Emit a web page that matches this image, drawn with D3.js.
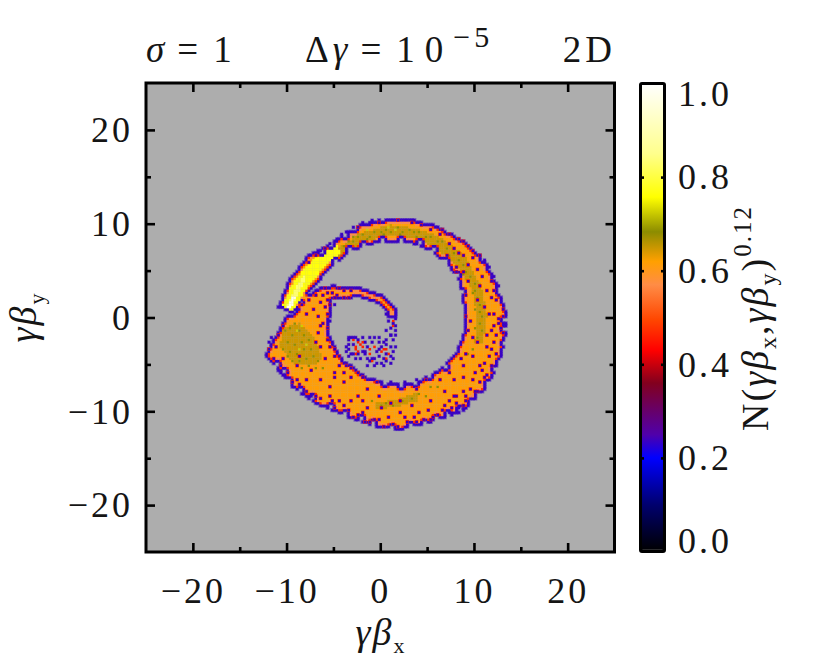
<!DOCTYPE html>
<html><head><meta charset="utf-8">
<script src="https://cdn.jsdelivr.net/npm/d3@7"></script>
<style>
html,body{margin:0;padding:0;background:#fff}
text{font-family:"Liberation Serif",serif;fill:#151515}
</style></head><body><svg id="c" width="830" height="670"></svg>
<script>
// Traced outlines of the populated area of the histogram, in (γβx, γβy)
const ringOutline=[[-10.9,1.1],[-9.8,3.9],[-7.7,6.6],[-5.0,8.1],[-2.2,9.9],[0.7,10.6],[3.2,10.5],[6.0,9.8],[8.9,8.2],[11.0,6.3],[12.4,3.8],[13.4,0.8],[13.4,-2.0],[12.7,-4.9],[11.2,-7.7],[8.9,-10.0],[6.0,-11.0],[2.1,-12.0],[-0.4,-11.7],[-3.2,-10.7],[-6.8,-9.2],[-9.3,-7.5],[-12.3,-4.0],[-10.0,0.1],[-9.5,0.2],[-8.0,2.2],[-6.4,3.2],[-5.0,3.4],[-5.2,1.9],[-5.4,-0.2],[-5.4,-2.0],[-4.3,-4.2],[-1.5,-6.4],[1.4,-7.1],[3.9,-6.9],[6.4,-5.5],[8.1,-3.7],[8.9,-1.7],[9.0,0.8],[8.5,3.7],[7.1,5.8],[5.3,7.2],[3.2,8.0],[-0.4,8.0],[-3.2,7.1],[-5.4,5.2],[-7.6,2.7],[-9.1,0.4]];
const spiralOutline=[[-5.0,3.4],[-2.2,3.2],[0.3,2.4],[1.8,0.8],[1.7,0.0],[0.9,0.0],[0.8,0.5],[-0.2,1.5],[-2.2,2.2],[-4.1,2.0],[-5.2,1.9]];
const ridgeOutline=[[-5.0,7.0],[-2.2,9.0],[1.0,9.9],[3.9,9.5],[6.4,8.6],[9.0,6.7],[10.8,3.3],[11.4,0.3],[11.0,-2.7],[10.1,-2.7],[10.3,0.3],[9.8,3.0],[8.1,5.6],[6.0,7.4],[3.9,8.4],[1.0,8.8],[-2.0,7.9],[-4.5,6.3]];
const blobOutline=[[-10.4,-1.0],[-8.6,-0.6],[-7.3,-1.7],[-6.1,-4.2],[-6.8,-4.9],[-9.3,-4.9],[-10.7,-3.1]];
const lowerArcOutline=[[-0.4,-9.1],[2.1,-8.6],[3.9,-8.0],[3.9,-8.9],[2.1,-9.4],[-0.4,-9.8]];
const streakOutline=[[-10.5,1.2],[-9.5,3.4],[-7.6,5.9],[-5.4,7.4],[-4.5,7.7],[-4.2,6.8],[-5.6,5.7],[-7.3,3.9],[-8.6,1.9],[-9.3,0.6]];
const paleOutline=[[-10.0,1.2],[-9.2,3.0],[-8.1,4.5],[-7.9,4.1],[-8.8,2.3],[-9.5,0.9]];
const coreOutline=[[-9.9,1.1],[-9.3,2.3],[-9.0,2.2],[-9.5,1.0]];
// Level of each traced area
const orangeLevel=0.615, edgeLevel=0.235, rimLevel=0.47, haloLevel=0.57, ridgeLevel=0.648, oliveLevel=0.685, brightLevel=0.725, streakLevel=0.765, paleLevel=0.83, coreLevel=0.97, sparseLevel=0.235, speckHaloLevel=0.46;
// Isolated low-count cells
const lowCells=[[8.9,8.1],[9.4,7.6],[9.9,7.2],[10.6,6.7],[11.2,6.2],[11.5,5.3],[12.1,4.4],[12.6,3.3],[11.9,2.2],[12.4,1.9],[13.0,0.8],[13.1,0.1],[12.6,-0.6],[11.9,-1.5],[13.0,-1.7],[12.2,-2.7],[11.4,-3.1],[11.7,-4.2],[10.6,-5.2],[11.0,-6.3],[9.9,-6.7],[10.3,-7.9],[9.2,-8.4],[8.9,-9.5],[8.0,-9.1],[7.4,-10.2],[6.5,-9.9],[5.7,-10.6],[4.6,-10.9],[3.5,-10.7],[2.5,-10.6],[1.4,-11.3],[0.3,-11.6],[-0.7,-10.9],[-1.8,-10.2],[-1.6,-11.1],[-2.9,-10.6],[-3.8,-9.5],[-4.3,-8.8],[-5.4,-8.4],[-6.3,-8.7],[-7.3,-8.4],[-8.6,-7.2],[-9.5,-6.8],[-10.0,-5.9],[-6.4,-6.7],[-5.0,-5.9],[-3.8,-6.8],[-3.2,-6.3],[-2.5,-8.4],[-1.5,-7.7],[-0.2,-8.4],[1.0,-9.1],[2.1,-8.8],[3.9,-7.7],[4.9,-6.7],[6.4,-6.7],[7.4,-5.9],[8.5,-4.5],[9.2,-3.8],[7.8,-8.4],[8.9,-5.2],[9.9,-4.2],[10.3,-2.7],[9.4,-1.5],[9.2,0.1],[11.0,1.2],[10.6,3.3],[8.1,5.4],[7.1,6.5],[8.9,6.5],[-5.4,-7.4],[-7.5,-5.6],[-8.9,-5.2],[-10.4,-4.5],[-11.2,-3.1],[-11.8,-3.5],[-12.0,-2.7],[-8.6,-4.2],[-6.4,-3.1],[-7.7,1.9],[-7.2,0.8],[-6.6,0.1],[-6.1,-0.6],[-5.6,1.9],[-6.3,1.5],[-4.8,2.2],[-4.0,2.2],[-4.5,3.2],[-3.2,2.8],[-5.7,-2.4],[-5.0,-3.3],[-4.5,-4.2],[-3.6,-5.2],[-2.5,-5.8],[-1.8,-6.5],[-0.4,-6.8],[1.0,-6.8],[2.5,-7.0],[3.9,-6.7],[-2.0,10.1],[-1.1,10.1],[-0.2,10.2],[-2.5,9.5],[-3.6,9.2],[-4.7,8.3],[-5.4,7.9],[-6.3,7.2],[-7.0,6.5],[6.5,9.4],[7.4,8.8],[8.3,8.3],[-3.1,-2.2],[-2.9,-2.9],[-2.3,-2.4],[-1.6,-2.6],[-1.3,-3.1],[-0.6,-2.2],[-0.2,-2.7],[-3.1,-3.8],[-2.3,-4.0],[-1.6,-4.0],[-0.9,-4.3],[-0.2,-4.2],[0.5,-3.8],[1.0,-4.2],[-1.3,-5.1],[-0.4,-4.9],[0.3,-5.1],[1.0,-4.9],[0.1,-3.1],[0.7,-2.4],[1.2,-1.9],[0.7,0.3],[1.4,-0.6],[0.5,-1.3],[1.0,-1.1],
[12.2,0.3],[12.7,-0.1],[12.0,-0.9],[12.9,-1.1],[12.4,-1.9],[11.4,-1.9],[11.9,-3.4],[12.4,-3.9],[11.2,-4.9],[11.9,-5.2],[10.9,-5.7],[11.4,-6.2],[10.2,-6.0],[10.6,-7.0],[9.6,-7.6],[10.0,-8.0],[8.8,-7.8],[9.0,-8.9],[8.2,-8.5],[8.4,-9.6],[7.4,-8.9],[7.6,-9.7],[6.8,-9.4],[6.2,-10.4],[5.2,-9.9],[5.3,-10.9],[4.2,-10.2],[3.9,-11.2],[2.9,-11.2],[2.1,-10.2],[1.8,-11.6],[0.8,-10.6],[-0.2,-10.8],[-1.1,-11.1],[-1.3,-9.7],[-2.3,-10.3],[-3.3,-9.9],[-3.1,-9.0],[-4.8,-9.7],[-5.1,-8.9],[-6.8,-8.4],[-7.9,-7.8],[-8.0,-6.7],[-9.0,-6.6],[-10.6,-5.2],[-11.4,-4.3],[-11.6,-2.2],[-10.9,-1.9],[-10.4,-1.0],[7.9,-6.7],[8.9,-6.3],[6.9,-7.9],[5.4,-8.9],[3.4,-9.4],[0.2,-9.6],[-1.9,-8.9],[9.9,-2.2],[9.6,-0.4],[10.4,1.9],[11.7,0.4],[11.4,2.9],[12.2,2.9],[11.9,3.9],[10.9,4.4],[10.4,5.2],[9.4,5.7],[9.9,6.3],[7.9,7.4],[8.4,6.9],[7.4,7.9],[6.4,8.9],[5.4,9.4],[4.4,9.9],[3.4,10.1],[1.9,10.4],[-0.9,10.4],[-2.9,9.7],[-4.2,8.9],[-5.9,7.4],[-7.6,5.9],[9.1,2.4],[9.3,3.9],[8.9,4.8],[8.1,4.9],[-5.9,3.1],[-5.6,2.6],[-6.1,2.4],[-5.1,2.6],[-4.6,2.4],[-3.9,2.9],[-3.4,2.2],[-5.4,1.4],[-5.9,1.1],[-4.9,1.4],[-5.7,0.4],[-5.5,-0.4],[-6.4,-0.9],[-5.6,-1.2],[-7.9,0.4],[-8.4,1.4],[-8.9,0.9],[-6.9,2.4],[-6.6,-1.6],[-6.9,-2.6],[-5.4,-3.1],[-4.9,-4.1],[-5.9,-4.4],[-4.4,-5.1],[-3.9,-5.9],[-4.9,-6.4],[-3.1,-5.4],[-3.4,-2.9],[-3.4,-3.4],[-3.3,-2.5],[-2.0,-2.2],[-2.9,-3.9],[-2.0,-3.6],[-1.6,-3.6],[-1.0,-2.6],[0.4,-2.6],[1.0,-3.1],[1.5,-1.4],[1.6,-0.1],[0.9,-0.4],[1.0,-2.0],[-0.4,-3.6],[-0.6,-4.4],[1.3,-3.6],[0.3,-4.4],
[-3.4,-2.1],[-2.9,-2.1],[-2.6,-2.1],[-3.6,-3.1],[-3.6,-3.7],[-3.3,-4.1],[-2.6,-4.3],[-2.1,-4.3],[-1.4,-4.4],[-1.1,-4.6],[-0.6,-5.1],[0.1,-4.8],[0.6,-4.6],[1.4,-4.3],[1.5,-3.1],[1.4,-2.5],[-0.1,-2.1],[-1.1,-2.1],[-0.1,-3.4],[0.6,-3.0],[1.6,-0.9],[1.7,-1.8]];
const redCells=[[-2.5,-2.7],[-1.8,-3.1],[-0.6,-3.1],[-2.7,-3.5],[-1.1,-3.8],[-2.6,-3.1],[-2.2,-2.9],[-1.1,-3.4],[0.1,-3.6],[0.6,-3.3],[-3.0,-2.5],[-2.0,-2.6],[-2.4,-3.7],[-2.6,-3.8],[0.3,-3.3],[0.9,-3.8],[0.6,-4.3],[-0.9,-4.7],[1.3,-1.0],[1.3,-0.3]];
// Empty notches along the edge of the populated area
const notchCells=[[-6.5,6.9],[-5.5,7.6],[-4,8.6],[-3,9.3],[-1.5,10.1],[0,10.4],[2,10.5],[4.5,10.0],[7,9.1],[8,8.5],[9.8,7.3],[10.8,6.2],[11.5,5.2],[12.1,4.2],[12.7,2.7],[13.1,1.5],[13.2,-0.5],[13.2,-1.5],[13,-3],[12.6,-4.8],[12.1,-5.7],[11.3,-7.2],[10.4,-8.3],[9.5,-9.2],[8.4,-10.0],[7.2,-10.5],[5.8,-10.9],[4.5,-11.3],[3,-11.7],[1,-11.9],[-1,-11.4],[-2.2,-11.0],[-4,-10.3],[-5.5,-9.6],[-7.5,-8.7],[-8.7,-7.8],[-9.8,-6.8],[-10.5,-5.8],[-11.2,-5.2],[6.8,-5.4],[5.2,-6.4],[3.5,-7.1],[2,-7.3],[0.3,-7.1],[-1,-6.5],[-2.5,-5.7],[-3.8,-4.6],[8.7,2.5],[8.0,4.3],[6.9,5.9],[5.5,7.0],[4,7.9],[2,8.2],[0,8.1],[-2,7.6],[-3.5,7.0],[-4.8,5.9]];
// Mottled higher-count cells
const oliveCells=[[-4,7.6],[-3.4,8.1],[-3,8.5],[-2.4,8.6],[-1.8,8.9],[-1.2,8.7],[-0.6,9.2],[0,9.1],[0.6,9.4],[1.2,9.2],[1.8,9.5],[2.4,9.1],[3,9.4],[3.6,9.0],[4.2,9.2],[4.8,8.6],[5.4,8.7],[6,8.2],[6.6,8.0],[7.2,7.4],[7.8,6.9],[8.4,6.2],[8.8,5.6],[9.2,4.9],[9.6,4.3],[10,3.6],[10.2,2.9],[10.4,2.2],[10.7,1.4],[10.6,0.7],[10.9,0.1],[10.5,-0.7],[10.8,-1.4],[10.4,-2.1],[9.8,-3.3],[9.4,-4.0],[-2.9,8.2],[-1.4,8.4],[0.4,8.9],[2.1,8.9],[3.9,8.7],[5.9,7.7],[7.4,6.6],[8.9,4.6],[9.9,2.6],[10.2,0.9],[10.2,-1.1],[-10.1,-1.5],[-9.6,-1.1],[-9.1,-0.6],[-8.6,-1.4],[-9.4,-1.9],[-8.1,-1.9],[-9.9,-2.6],[-9.1,-2.9],[-8.4,-2.6],[-7.6,-2.4],[-10.4,-3.4],[-9.6,-3.6],[-8.9,-3.9],[-8.1,-3.4],[-7.4,-3.4],[-9.4,-4.6],[-8.6,-4.6],[-7.9,-4.4],[-7.1,-4.1],[-6.6,-4.6],[-6.9,-5.4],[-7.6,-5.1],[-8.4,-5.4],[-6.1,-5.4],[-9.9,-4.1],[0,-9.4],[0.6,-9.1],[1.4,-9.4],[2.4,-9.0],[3.4,-8.6],[4.1,-8.2],[4.9,-8.4],[-1,-9.0],[5.4,-7.4],[6.1,-7.4]];
const brightCells=[[-8.9,-1.4],[-8.4,-0.9],[-8.6,-3.3],[-7.9,-3.0],[-1.4,9.4],[1.6,9.3],[-2.6,9.0],[0.9,9.6]];
// Colour table of the colour bar
const cmapLevels=[0,0.1,0.2,0.25,0.36,0.43,0.495,0.57,0.62,0.683,0.757,0.85,1];
const cmapColors=["#000000","#00006e","#0000ff","#5000aa","#82001e","#ff0000","#ff4600","#ff8c46","#ffa000","#8c8c00","#ffff00","#ffff8c","#ffffff"];
// Axis ticks
const majorTicks=[-20,-10,0,10,20], minorTicks=[-15,-5,5,15], barTicks=[0,0.2,0.4,0.6,0.8,1], barMinor=[0.2,0.4,0.6,0.8];
const xRange=[-25,25], yRange=[-25,25], cellStep=0.25;

const svg=d3.select("#c");
const x=d3.scaleLinear().domain(xRange).range([146,614.5]);
const y=d3.scaleLinear().domain(yRange).range([552,83]);
const cb=d3.scaleLinear().domain([0,1]).range([551.5,83.5]);
const col=d3.scaleLinear().domain(cmapLevels).range(cmapColors);
const snap=v=>Math.floor(v/cellStep);
const key=(i,j)=>i+","+j;
const inside=(p,a,b)=>d3.polygonContains(p,[a,b]);

svg.append("rect").attr("x",x(-25)).attr("y",y(25)).attr("width",x(25)-x(-25)).attr("height",y(-25)-y(25)).attr("fill","#adadad");

const g=svg.append("g").style("filter","blur(0.4px)");
const occ=new Set();
d3.range(snap(-13.5),snap(14)).forEach(i=>d3.range(snap(-12.5),snap(11.5)).forEach(j=>{
  const a=(i+.5)*cellStep,b=(j+.5)*cellStep;
  if(inside(ringOutline,a,b)||inside(spiralOutline,a,b))occ.add(key(i,j));
}));
notchCells.forEach(c=>{const i=snap(c[0]),j=snap(c[1]);[0,1].forEach(p=>[0,1].forEach(q=>occ.delete(key(i+p,j+q))))});
const dirs4=[[1,0],[-1,0],[0,1],[0,-1]], diag=[[1,1],[-1,1],[1,-1],[-1,-1]], far=[[2,0],[-2,0],[0,2],[0,-2]];
const cells=new Map(), outer=[];
occ.forEach(k=>{
  const [i,j]=k.split(",").map(Number);
  const a=(i+.5)*cellStep,b=(j+.5)*cellStep;
  const all=L=>L.every(d=>occ.has(key(i+d[0],j+d[1])));
  let v=orangeLevel;
  if(inside(lowerArcOutline,a,b)||inside(ridgeOutline,a,b)||inside(blobOutline,a,b))v=ridgeLevel;
  if(inside(streakOutline,a,b))v=streakLevel;
  if(inside(paleOutline,a,b))v=paleLevel;
  if(inside(coreOutline,a,b))v=coreLevel;
  if(!all(dirs4)){v=edgeLevel;outer.push({i,j});}
  else if(!all(diag)&&v<streakLevel)v=rimLevel;
  else if(!all(far)&&v<ridgeLevel)v=haloLevel;
  cells.set(k,{i,j,v});
});
[[oliveCells,oliveLevel],[brightCells,brightLevel]].forEach(([list,v])=>list.forEach(c=>{
  const i=snap(c[0]),j=snap(c[1]),k=key(i,j);
  if(cells.has(k)&&cells.get(k).v>=orangeLevel)cells.set(k,{i,j,v});
}));
const px=d=>x(d.i*cellStep), py=d=>y((d.j+1)*cellStep), cw=x(cellStep)-x(0), ch=y(0)-y(cellStep);
g.append("g").selectAll("rect").data(outer).join("rect")
 .attr("x",d=>px(d)-1).attr("y",d=>py(d)-1).attr("width",cw+2).attr("height",ch+2)
 .attr("fill",col(edgeLevel)).attr("opacity",.45);
g.append("g").selectAll("rect").data([...cells.values()]).join("rect")
 .attr("x",px).attr("y",py).attr("width",cw+.2).attr("height",ch+.2).attr("fill",d=>col(d.v));
const lowData=lowCells.map(c=>({i:snap(c[0]),j:snap(c[1])}));
g.append("g").selectAll("rect").data(lowData).join("rect")
 .attr("x",d=>px(d)-.6).attr("y",d=>py(d)-.6).attr("width",cw+1.2).attr("height",ch+1.2)
 .attr("fill",d=>occ.has(key(d.i,d.j))?col(speckHaloLevel):col(edgeLevel)).attr("opacity",d=>occ.has(key(d.i,d.j))?1:.45);
g.append("g").selectAll("rect").data(redCells.map(c=>({i:snap(c[0]),j:snap(c[1])}))).join("rect")
 .attr("x",px).attr("y",py).attr("width",cw+.2).attr("height",ch+.2).attr("fill",col(speckHaloLevel));
g.append("g").selectAll("rect").data(lowData).join("rect")
 .attr("x",px).attr("y",py).attr("width",cw+.2).attr("height",ch+.2).attr("fill",col(sparseLevel));

function ticks(axis,vals,size,tx){
  const a=svg.append("g").attr("transform",tx).call(axis.tickValues(vals).tickSize(size).tickFormat(""));
  a.select(".domain").remove();
  a.selectAll("line").attr("stroke","#000").attr("stroke-width",2.6);
  return a;
}
const M=9,m=5;
ticks(d3.axisBottom(x),majorTicks,-M,`translate(0,${y(-25)})`);
ticks(d3.axisBottom(x),minorTicks,-m,`translate(0,${y(-25)})`);
ticks(d3.axisTop(x),majorTicks,-M,`translate(0,${y(25)})`);
ticks(d3.axisTop(x),minorTicks,-m,`translate(0,${y(25)})`);
ticks(d3.axisLeft(y),majorTicks,-M,`translate(${x(-25)},0)`);
ticks(d3.axisLeft(y),minorTicks,-m,`translate(${x(-25)},0)`);
ticks(d3.axisRight(y),majorTicks,-M,`translate(${x(25)},0)`);
ticks(d3.axisRight(y),minorTicks,-m,`translate(${x(25)},0)`);
svg.append("rect").attr("x",x(-25)).attr("y",y(25)).attr("width",x(25)-x(-25)).attr("height",y(-25)-y(25)).attr("fill","none").attr("stroke","#000").attr("stroke-width",3);

// Tick labels
const fs=36, ls=3;
const lab=(sel)=>sel.style("font-size",fs+"px").style("letter-spacing",ls+"px");
const fmt=d=>d3.format("d")(d);
const xl=svg.append("g").call(d3.axisBottom(x).tickValues(majorTicks).tickSize(0).tickFormat(fmt));
xl.select(".domain").remove();
xl.selectAll("text").attr("y",603).attr("dy",0).attr("text-anchor","middle").call(lab);
const yl=svg.append("g").call(d3.axisLeft(y).tickValues(majorTicks).tickSize(0).tickFormat(fmt));
yl.select(".domain").remove();
yl.selectAll("text").attr("x",133).attr("dy","0.33em").attr("text-anchor","end").call(lab);

// Colour bar
const grad=svg.append("defs").append("linearGradient").attr("id","cbg").attr("x1",0).attr("x2",0).attr("y1",1).attr("y2",0);
cmapLevels.forEach((v,i)=>grad.append("stop").attr("offset",v).attr("stop-color",cmapColors[i]));
const cx0=640.5,cx1=664.5;
svg.append("rect").attr("x",cx0).attr("y",cb(1)).attr("width",cx1-cx0).attr("height",cb(0)-cb(1)).attr("fill","url(#cbg)");
svg.append("line").attr("x1",cx0+2).attr("x2",cx1-2).attr("y1",cb(0)-1).attr("y2",cb(0)-1).attr("stroke","#aaa").attr("stroke-width",1.5);
ticks(d3.axisLeft(cb),barMinor,-3.5,`translate(${cx0},0)`);
ticks(d3.axisRight(cb),barMinor,-3.5,`translate(${cx1},0)`);
svg.append("rect").attr("x",cx0).attr("y",cb(1)).attr("width",cx1-cx0).attr("height",cb(0)-cb(1)).attr("rx",1.5).attr("fill","none").attr("stroke","#000").attr("stroke-width",3);
const cl=svg.append("g").call(d3.axisRight(cb).tickValues(barTicks).tickSize(0).tickFormat(d3.format(".1f")));
cl.select(".domain").remove();
cl.selectAll("text").attr("x",678).attr("dy","0.33em").attr("text-anchor","start").call(lab);
cl.selectAll("text").filter(d=>d===1).attr("y",10.5);
cl.selectAll("text").filter(d=>d===0).attr("y",-11);

// Titles and labels
function rich(t,parts){
  let last=0;
  parts.forEach(p=>{
    const s=t.append("tspan").text(p.t);
    const shift=p.d||0;
    s.attr("dy",shift-last); last=shift;
    if(p.i)s.style("font-style","italic");
    if(p.s)s.style("font-size",p.s+"px");
    if(p.dx)s.attr("dx",p.dx);
    if(p.ls!==undefined)s.style("letter-spacing",p.ls+"px");
  });
}
const title=(xp,anchor,parts)=>{const t=svg.append("text").attr("x",xp).attr("y",62).attr("text-anchor",anchor).style("font-size","37px").style("letter-spacing","4px");rich(t,parts)};
title(146,"start",[{t:"σ",i:1},{t:"=",dx:9},{t:"1",dx:11}]);
title(305,"start",[{t:"Δ"},{t:"γ",i:1},{t:"=",dx:9},{t:"10",dx:11,ls:10},{t:"−5",d:-15,s:30}]);
title(616,"end",[{t:"2D"}]);
const xt=svg.append("text").attr("x",381).attr("y",645).attr("text-anchor","middle").style("font-size","38px").style("letter-spacing","2px");
rich(xt,[{t:"γβ",i:1},{t:"x",d:8,s:22}]);
const yt=svg.append("text").attr("transform","translate(36,317) rotate(-90)").attr("text-anchor","middle").style("font-size","38px").style("letter-spacing","2px");
rich(yt,[{t:"γβ",i:1},{t:"y",d:8,s:22}]);
const ct=svg.append("text").attr("transform","translate(768,318) rotate(-90)").attr("text-anchor","middle").style("font-size","38px").style("letter-spacing","2px");
rich(ct,[{t:"N("},{t:"γβ",i:1},{t:"x",d:8,s:24},{t:",",d:0},{t:"γβ",i:1},{t:"y",d:8,s:24},{t:")",d:0},{t:"0.12",d:-17,s:25}]);
</script></body></html>
